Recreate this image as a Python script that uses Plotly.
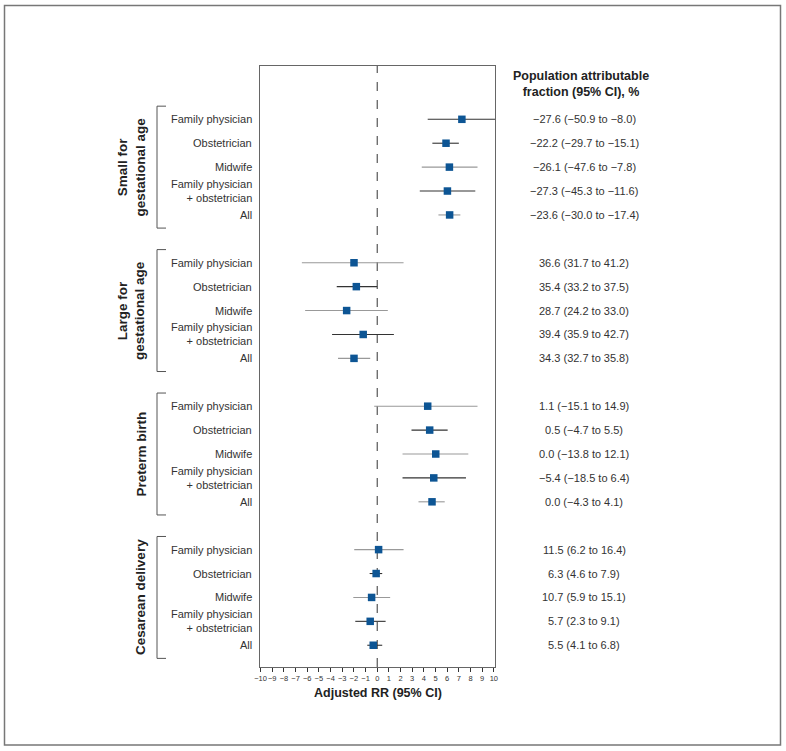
import plotly.graph_objects as go

# ---------------- data ----------------
groups = ["Small for<br>gestational age", "Large for<br>gestational age", "Preterm birth", "Cesarean delivery"]
providers = ["Family physician", "Obstetrician", "Midwife", "Family physician<br>+ obstetrician", "All"]

sga_rr = [7.26, 5.90, 6.19, 6.02, 6.21]
sga_lo = [4.33, 4.73, 3.82, 3.65, 5.25]
sga_hi = [10.3, 7.00, 8.60, 8.41, 7.13]

lga_rr = [-1.99, -1.79, -2.62, -1.20, -1.99]
lga_lo = [-6.46, -3.47, -6.18, -3.87, -3.36]
lga_hi = [2.26, 0.00, 0.91, 1.43, -0.60]

pt_rr = [4.33, 4.50, 5.02, 4.85, 4.70]
pt_lo = [-0.26, 2.94, 2.17, 2.17, 3.54]
pt_hi = [8.60, 6.04, 7.81, 7.61, 5.79]

cs_rr = [0.12, -0.09, -0.48, -0.60, -0.34]
cs_lo = [-1.97, -0.65, -2.05, -1.88, -0.85]
cs_hi = [2.26, 0.43, 1.11, 0.72, 0.43]

sga_paf = ["−27.6 (−50.9 to −8.0)", "−22.2 (−29.7 to −15.1)", "−26.1 (−47.6 to −7.8)",
           "−27.3 (−45.3 to −11.6)", "−23.6 (−30.0 to −17.4)"]
lga_paf = ["36.6 (31.7 to 41.2)", "35.4 (33.2 to 37.5)", "28.7 (24.2 to 33.0)",
           "39.4 (35.9 to 42.7)", "34.3 (32.7 to 35.8)"]
pt_paf = ["1.1 (−15.1 to 14.9)", "0.5 (−4.7 to 5.5)", "0.0 (−13.8 to 12.1)",
          "−5.4 (−18.5 to 6.4)", "0.0 (−4.3 to 4.1)"]
cs_paf = ["11.5 (6.2 to 16.4)", "6.3 (4.6 to 7.9)", "10.7 (5.9 to 15.1)",
          "5.7 (2.3 to 9.1)", "5.5 (4.1 to 6.8)"]

tick_vals = list(range(-10, 11))
tick_text = [("−" + str(-v)) if v < 0 else str(v) for v in tick_vals]

# styles (line shade of each CI row)
ci_shade = [["d", "d", "g", "d", "g"],
            ["g", "d", "g", "d", "g"],
            ["g", "d", "g", "d", "g"],
            ["g", "d", "g", "d", "d"]]

rr_all = [sga_rr, lga_rr, pt_rr, cs_rr]
lo_all = [sga_lo, lga_lo, pt_lo, cs_lo]
hi_all = [sga_hi, lga_hi, pt_hi, cs_hi]
paf_all = [sga_paf, lga_paf, pt_paf, cs_paf]

# ---------------- layout constants ----------------
W, H = 786, 751
PL, PR, PT, PB = 260, 495, 66, 667
FONT = "Arial, Liberation Sans, Helvetica, sans-serif"
DARK = "#333333"
GREY = "#999999"
BLUE = "#0d5594"


def px2paper_x(px):
    return (px - PL) / (PR - PL)


def px2paper_y(py):
    return (PB - py) / (PB - PT)


fig = go.Figure()

# flatten rows
ys, rrs, los, his, shades, labels, pafs = [], [], [], [], [], [], []
for g in range(4):
    for r in range(5):
        ys.append(g * 6 + r)
        rrs.append(rr_all[g][r])
        los.append(lo_all[g][r])
        his.append(hi_all[g][r])
        shades.append(ci_shade[g][r])
        labels.append(providers[r])
        pafs.append(paf_all[g][r])

for shade, col in (("g", GREY), ("d", DARK)):
    idx = [i for i in range(len(ys)) if shades[i] == shade]
    fig.add_trace(go.Scatter(
        x=[rrs[i] for i in idx], y=[ys[i] for i in idx], mode="markers",
        marker=dict(size=1, color="rgba(0,0,0,0)"),
        error_x=dict(type="data", symmetric=False,
                     array=[his[i] - rrs[i] for i in idx],
                     arrayminus=[rrs[i] - los[i] for i in idx],
                     color=col, thickness=1.1, width=0),
        hoverinfo="skip", showlegend=False))

fig.add_trace(go.Scatter(
    x=rrs, y=ys, mode="markers",
    marker=dict(symbol="square", size=7.5, color=BLUE, line=dict(width=0)),
    showlegend=False))

annotations = []
shapes = []

# row labels and PAF text
for i in range(len(ys)):
    annotations.append(dict(x=0, xref="x domain", y=ys[i], yref="y", xshift=-6,
                            text=labels[i], showarrow=False, xanchor="right", yanchor="middle",
                            align="right", font=dict(family=FONT, size=11, color=DARK)))
    annotations.append(dict(x=px2paper_x(584), xref="paper", y=ys[i], yref="y",
                            text=pafs[i], showarrow=False, xanchor="center", yanchor="middle",
                            font=dict(family=FONT, size=11, color=DARK)))

# group labels and brackets
for g in range(4):
    y0 = g * 6 - 0.55
    y1 = g * 6 + 4 + 0.55
    ym = g * 6 + 2
    annotations.append(dict(x=px2paper_x(150), xref="paper", y=ym, yref="y",
                            text="<b>" + groups[g] + "</b>", textangle=-90, showarrow=False,
                            xanchor="right", yanchor="middle", align="center",
                            font=dict(family=FONT, size=13.5, color="#222222")))
    xa, xb = px2paper_x(157), px2paper_x(166)
    shapes.append(dict(type="path", xref="paper", yref="y",
                       path=f"M {xb},{y0} L {xa},{y0} L {xa},{y1} L {xb},{y1}",
                       line=dict(color="#555555", width=1)))

# header
annotations.append(dict(x=px2paper_x(581), xref="paper", y=px2paper_y(84.5), yref="paper",
                        text="<b>Population attributable<br>fraction (95% CI), %</b>",
                        showarrow=False, xanchor="center", yanchor="middle", align="center",
                        font=dict(family=FONT, size=12.5, color="#222222")))
# axis title
annotations.append(dict(x=0.5, xref="paper", y=px2paper_y(693), yref="paper",
                        text="<b>Adjusted RR (95% CI)</b>", showarrow=False,
                        xanchor="center", yanchor="middle",
                        font=dict(family=FONT, size=12.5, color="#222222")))

# zero reference line
shapes.append(dict(type="line", xref="x", yref="y domain", x0=0, x1=0, y0=0, y1=1,
                   line=dict(color=DARK, width=1, dash="dash"), layer="below"))

# outer border
shapes.append(dict(type="rect", xref="paper", yref="paper",
                   x0=px2paper_x(4.5), x1=px2paper_x(780.5),
                   y0=px2paper_y(745), y1=px2paper_y(5.5),
                   line=dict(color="#777777", width=1.5)))

fig.update_layout(
    width=W, height=H,
    margin=dict(l=PL, r=W - PR, t=PT, b=H - PB, pad=0),
    paper_bgcolor="white", plot_bgcolor="white",
    xaxis=dict(range=[-10.05, 10.1], tickvals=tick_vals, ticktext=tick_text,
               tickangle=0, ticks="outside", ticklen=4, tickcolor=DARK, tickwidth=1,
               tickfont=dict(family=FONT, size=7.5, color=DARK),
               showgrid=False, zeroline=False, showline=True, linecolor="#666666",
               linewidth=1, mirror=True),
    yaxis=dict(range=[22.91, -2.23], showticklabels=False, ticks="", showgrid=False,
               zeroline=False, showline=True, linecolor="#666666", linewidth=1, mirror=True),
    annotations=annotations, shapes=shapes,
    font=dict(family=FONT),
)

fig.write_html("out.html", config={"displayModeBar": False},
               post_script="document.body.style.margin='0';document.body.style.overflow='hidden';")
